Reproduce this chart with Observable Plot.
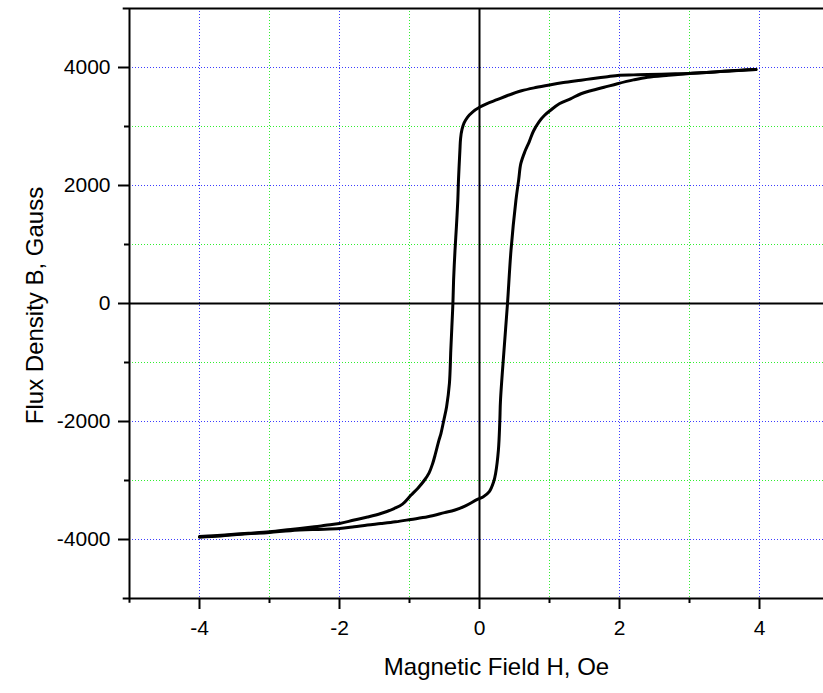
<!DOCTYPE html>
<html>
<head>
<meta charset="utf-8">
<script src="https://cdn.jsdelivr.net/npm/d3@7"></script>
<script src="https://cdn.jsdelivr.net/npm/@observablehq/plot@0.6"></script>
<style>
  html, body { margin: 0; padding: 0; background: #fff; }
  #chart { width: 823px; height: 693px; }
  #chart g[aria-label$="tick label"], #chart g[aria-label$="tick label"] text { font-size: 21px !important; }
</style>
</head>
<body>
<div id="chart"></div>
<script>
// Descending branch (from +H saturation to -H saturation)
const descH = [3.95, 3.7, 3.5, 3.3, 3.0, 2.7, 2.4, 2.2, 2.0, 1.8, 1.6, 1.45, 1.2, 1.0, 0.8, 0.6, 0.4, 0.25, 0.1, 0.0, -0.1, -0.17, -0.22, -0.25, -0.27, -0.28, -0.30, -0.31, -0.33, -0.35, -0.37, -0.38, -0.395, -0.41, -0.43, -0.47, -0.51, -0.55, -0.58, -0.63, -0.67, -0.72, -0.79, -0.88, -0.98, -1.1, -1.22, -1.41, -1.6, -1.79, -2.0, -2.2, -2.36, -2.7, -3.0, -3.3, -3.55, -3.8, -4.0];
const descB = [3965, 3950, 3935, 3920, 3900, 3890, 3880, 3875, 3870, 3840, 3810, 3785, 3745, 3705, 3660, 3605, 3525, 3455, 3385, 3325, 3245, 3160, 3060, 2950, 2800, 2595, 2100, 1745, 1300, 900, 400, 0, -400, -795, -1360, -1750, -1980, -2200, -2320, -2550, -2715, -2870, -3000, -3130, -3250, -3400, -3475, -3560, -3620, -3670, -3730, -3760, -3785, -3830, -3870, -3895, -3915, -3935, -3950];
// Ascending branch (from -H saturation to +H saturation)
const ascH = [-4.0, -3.7, -3.4, -3.0, -2.7, -2.36, -2.0, -1.79, -1.6, -1.41, -1.2, -0.98, -0.74, -0.5, -0.36, -0.2, -0.03, 0.05, 0.14, 0.2, 0.23, 0.27, 0.29, 0.30, 0.35, 0.40, 0.45, 0.52, 0.56, 0.59, 0.65, 0.71, 0.77, 0.85, 0.93, 1.02, 1.14, 1.3, 1.45, 1.6, 1.78, 1.97, 2.2, 2.4, 2.7, 3.0, 3.3, 3.6, 3.95];
const ascB = [-3960, -3940, -3910, -3880, -3850, -3830, -3815, -3785, -3755, -3730, -3700, -3660, -3615, -3545, -3505, -3430, -3320, -3280, -3190, -3030, -2880, -2485, -2000, -1640, -795, 0, 900, 1745, 2100, 2370, 2580, 2740, 2920, 3080, 3190, 3280, 3385, 3470, 3555, 3610, 3665, 3725, 3790, 3835, 3870, 3900, 3920, 3945, 3965];

const xMajor = [-4, -2, 0, 2, 4];
const xMinor = [-3, -1, 1, 3];
const yMajor = [-4000, -2000, 0, 2000, 4000];
const yMinor = [-3000, -1000, 1000, 3000];
const xGridBlue = [-4, -2, 2, 4];
const yGridBlue = [-4000, -2000, 2000, 4000];
const xGridGreen = [-3, -1, 1, 3];
const yGridGreen = [-3000, -1000, 1000, 3000];
const xTitle = "Magnetic Field H, Oe";
const yTitle = "Flux Density B, Gauss";

const loop = [
  ...descH.map((h, i) => ({H: h, B: descB[i], branch: "desc"})),
  ...ascH.map((h, i) => ({H: h, B: ascB[i], branch: "asc"}))
];

const blue = "#3c3cff";
const green = "#30f030";
const xMax = -5 + 694 / 70;

const chart = Plot.plot({
  width: 823,
  height: 693,
  marginLeft: 129,
  marginRight: 0,
  marginTop: 8,
  marginBottom: 95,
  style: {fontFamily: "'Liberation Sans', Arial, sans-serif", fontSize: "21px", background: "#fff", color: "#000"},
  x: {domain: [-5, xMax]},
  y: {domain: [-5000, 5000]},
  marks: [
    Plot.ruleX(xGridGreen, {stroke: green, strokeWidth: 1, strokeDasharray: "1,2"}),
    Plot.ruleY(yGridGreen, {stroke: green, strokeWidth: 1, strokeDasharray: "1,2"}),
    Plot.ruleX(xGridBlue, {stroke: blue, strokeWidth: 1, strokeDasharray: "1,2"}),
    Plot.ruleY(yGridBlue, {stroke: blue, strokeWidth: 1, strokeDasharray: "1,2"}),
    Plot.ruleX([0], {stroke: "#000", strokeWidth: 2}),
    Plot.ruleY([0], {stroke: "#000", strokeWidth: 2}),
    Plot.line(loop, {x: "H", y: "B", z: "branch", stroke: "#000", strokeWidth: 3, strokeLinejoin: "round", strokeLinecap: "round", curve: "catmull-rom"}),
    // frame lines (left, bottom, top)
    Plot.ruleX([-5], {y1: -5080, y2: 5000, stroke: "#000", strokeWidth: 2}),
    Plot.ruleY([-5000], {x1: -5.09, x2: xMax, stroke: "#000", strokeWidth: 2}),
    Plot.ruleY([5000], {x1: -5.09, x2: xMax, stroke: "#000", strokeWidth: 2}),
    // axes
    Plot.axisX({ticks: xMajor, tickSize: 11, tickPadding: 11, strokeWidth: 2, label: null, fontSize: 21, tickFormat: d => String(d)}),
    Plot.axisX({ticks: xMinor, tickSize: 5, strokeWidth: 2, label: null, tickFormat: () => ""}),
    Plot.axisY({ticks: yMajor, tickSize: 11, tickPadding: 8, strokeWidth: 2, label: null, fontSize: 21, tickFormat: d => String(d)}),
    Plot.axisY({ticks: yMinor, tickSize: 5, strokeWidth: 2, label: null, tickFormat: () => ""}),
    // axis titles
    Plot.text([xTitle], {frameAnchor: "bottom", dx: 20, dy: 76, fontSize: 24, fill: "#000"}),
    Plot.text([yTitle], {frameAnchor: "left", textAnchor: "middle", dx: -94, dy: 2, rotate: -90, fontSize: 24, fill: "#000"})
  ]
});
document.getElementById("chart").appendChild(chart);
</script>
</body>
</html>
